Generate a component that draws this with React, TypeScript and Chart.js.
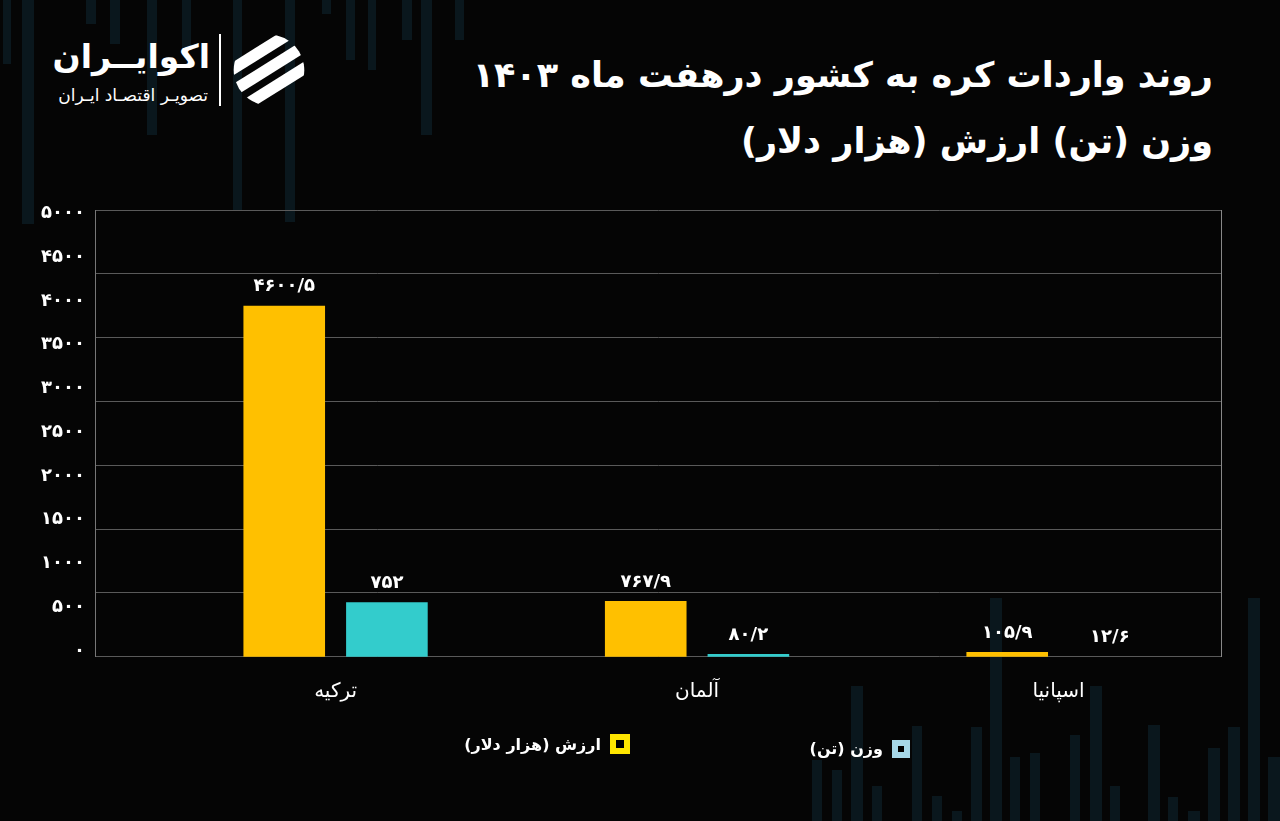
import React, { useEffect, useRef } from "react";
import { Chart, registerables } from "chart.js";

Chart.register(...registerables);

// ---------- data ----------
const categories = ["ترکیه", "آلمان", "اسپانیا"];
const valueSeries = [4600.5, 767.9, 105.9]; // ارزش (هزار دلار)
const weightSeries = [752, 80.2, 12.6]; // وزن (تن)
const seriesNames = ["ارزش (هزار دلار)", "وزن (تن)"];
const yTickValues = [0, 500, 1000, 1500, 2000, 2500, 3000, 3500, 4000, 4500, 5000];

const titleLines = ["روند واردات کره به کشور درهفت ماه ۱۴۰۳", "وزن (تن) ارزش (هزار دلار)"];

// ---------- style ----------
const YELLOW = "#FFC000";
const TEAL = "#33CCCC";
const FONT = "'DejaVu Sans', 'Noto Sans', sans-serif";

const toFa = (v: number | string) =>
  String(v)
    .replace(".", "/")
    .replace(/\d/g, (d) => "۰۱۲۳۴۵۶۷۸۹"[Number(d)]);

// decorative faint columns of the background artwork
const decorTop = [
  { x: 3, w: 8, h: 64 },
  { x: 22, w: 12, h: 224 },
  { x: 86, w: 10, h: 24 },
  { x: 110, w: 10, h: 44 },
  { x: 147, w: 10, h: 135 },
  { x: 182, w: 9, h: 50 },
  { x: 233, w: 9, h: 210 },
  { x: 285, w: 10, h: 222 },
  { x: 322, w: 9, h: 14 },
  { x: 346, w: 9, h: 60 },
  { x: 368, w: 8, h: 70 },
  { x: 402, w: 10, h: 40 },
  { x: 421, w: 11, h: 135 },
  { x: 455, w: 9, h: 40 },
];
const decorBottom = [
  { x: 812, w: 10, top: 760 },
  { x: 832, w: 10, top: 770 },
  { x: 851, w: 12, top: 686 },
  { x: 872, w: 10, top: 786 },
  { x: 912, w: 10, top: 726 },
  { x: 932, w: 10, top: 796 },
  { x: 952, w: 10, top: 811 },
  { x: 971, w: 11, top: 727 },
  { x: 990, w: 12, top: 598 },
  { x: 1010, w: 10, top: 757 },
  { x: 1030, w: 10, top: 753 },
  { x: 1070, w: 10, top: 735 },
  { x: 1090, w: 12, top: 686 },
  { x: 1110, w: 10, top: 786 },
  { x: 1148, w: 12, top: 725 },
  { x: 1168, w: 10, top: 797 },
  { x: 1188, w: 12, top: 811 },
  { x: 1208, w: 12, top: 748 },
  { x: 1228, w: 12, top: 727 },
  { x: 1248, w: 12, top: 598 },
  { x: 1268, w: 12, top: 757 },
];

const valueLabels = {
  id: "valueLabels",
  afterDatasetsDraw(chart: any) {
    const { ctx, chartArea } = chart;
    ctx.save();
    ctx.fillStyle = "#ffffff";
    ctx.font = `bold 18px ${FONT}`;
    ctx.textAlign = "center";
    ctx.textBaseline = "middle";
    chart.data.datasets.forEach((ds: any, di: number) => {
      const meta = chart.getDatasetMeta(di);
      meta.data.forEach((el: any, i: number) => {
        const y = Math.min(el.y, chartArea.bottom);
        ctx.fillText(toFa(ds.data[i].y), el.x, y - 19);
      });
    });
    ctx.restore();
  },
};

function Logo() {
  return (
    <>
      <div
        style={{
          position: "absolute",
          right: 1280 - 210,
          top: 34,
          color: "#fff",
          fontFamily: FONT,
          fontWeight: 700,
          fontSize: 33,
          lineHeight: "46px",
          direction: "rtl",
          whiteSpace: "nowrap",
        }}
      >
        اکوایــران
      </div>
      <div
        style={{
          position: "absolute",
          right: 1280 - 208,
          top: 84,
          color: "#fff",
          fontFamily: FONT,
          fontSize: 17,
          lineHeight: "22px",
          direction: "rtl",
          whiteSpace: "nowrap",
        }}
      >
        تصویـر اقتصـاد ایـران
      </div>
      <div style={{ position: "absolute", left: 219, top: 34, width: 2, height: 72, background: "#fff" }} />
      <svg style={{ position: "absolute", left: 233, top: 34 }} width={72} height={72} viewBox="0 0 100 100">
        <defs>
          <clipPath id="logoClip">
            <circle cx="50" cy="50" r="49" />
          </clipPath>
        </defs>
        <g clipPath="url(#logoClip)" transform="rotate(-32 50 50)">
          <rect x="-10" y="14" width="120" height="16" fill="#fff" />
          <rect x="-10" y="40" width="120" height="16" fill="#fff" />
          <rect x="-10" y="66" width="120" height="16" fill="#fff" />
        </g>
      </svg>
    </>
  );
}

function Legend() {
  const items = [
    { name: seriesNames[0], color: "#FFE600", right: 1280 - 630, top: 734, size: 20 },
    { name: seriesNames[1], color: "#A6D8E8", right: 1280 - 910, top: 739, size: 18 },
  ];
  return (
    <>
      {items.map((it) => (
        <div
          key={it.name}
          style={{
            position: "absolute",
            right: it.right,
            top: it.top,
            display: "flex",
            direction: "rtl",
            alignItems: "center",
            gap: 9,
            color: "#fff",
            fontFamily: FONT,
            fontSize: 16,
            fontWeight: 700,
            whiteSpace: "nowrap",
          }}
        >
          <div
            style={{
              width: it.size,
              height: it.size,
              boxSizing: "border-box",
              border: `6px solid ${it.color}`,
              background: "#000",
            }}
          />
          <span>{it.name}</span>
        </div>
      ))}
    </>
  );
}

export default function App() {
  const canvasRef = useRef<HTMLCanvasElement | null>(null);

  useEffect(() => {
    if (!canvasRef.current) return;
    Chart.defaults.font.family = FONT;
    const chart = new Chart(canvasRef.current, {
      type: "bar",
      data: {
        datasets: [
          {
            label: seriesNames[0],
            data: valueSeries.map((v, i) => ({ x: i, y: v })),
            backgroundColor: YELLOW,
            clip: 0,
            categoryPercentage: 0.568,
            barPercentage: 0.795,
          },
          {
            label: seriesNames[1],
            data: weightSeries.map((v, i) => ({ x: i, y: v })),
            backgroundColor: TEAL,
            clip: 0,
            categoryPercentage: 0.568,
            barPercentage: 0.795,
          },
        ] as any,
      },
      options: {
        responsive: false,
        animation: false,
        layout: { padding: { top: 210, right: 59, left: 0, bottom: 0 } },
        plugins: {
          legend: { display: false },
          tooltip: { enabled: false },
          title: { display: false },
        },
        scales: {
          x: {
            type: "linear",
            offset: false,
            min: -0.6655,
            max: 2.4494,
            afterBuildTicks: (s: any) => {
              s.ticks = categories.map((_, i) => ({ value: i }));
            },
            afterFit: (s: any) => {
              s.height = 164.3;
            },
            ticks: {
              color: "#ffffff",
              font: { size: 20 },
              padding: 23,
              maxRotation: 0,
              autoSkip: false,
              callback: (v: any) => categories[Number(v)] ?? "",
            },
            grid: { display: false, drawTicks: false, offset: false },
            border: { display: false },
          },
          y: {
            position: "left",
            min: 46,
            max: 5842,
            afterBuildTicks: (s: any) => {
              const n = 7;
              s.ticks = Array.from({ length: n + 1 }, (_, k) => ({
                value: s.min + (k * (s.max - s.min)) / n,
              }));
            },
            afterFit: (s: any) => {
              s.width = 0;
            },
            ticks: { display: false },
            grid: { color: "#5a5a5a", drawTicks: false, lineWidth: 1 },
            border: { display: true, color: "#777777" },
          },
          yLabels: {
            position: "left",
            min: -65,
            max: 5038,
            afterBuildTicks: (s: any) => {
              s.ticks = yTickValues.map((v) => ({ value: v }));
            },
            afterFit: (s: any) => {
              s.width = 95;
            },
            ticks: {
              color: "#ffffff",
              font: { size: 18, weight: "bold" },
              padding: 10,
              callback: (v: any) => toFa(v),
            },
            grid: { display: false, drawTicks: false },
            border: { display: false },
          },
          yRight: {
            position: "right",
            min: 0,
            max: 1,
            afterFit: (s: any) => {
              s.width = 0;
            },
            ticks: { display: false },
            grid: { display: false, drawTicks: false },
            border: { display: true, color: "#888888" },
          },
        } as any,
      },
      plugins: [valueLabels],
    });
    return () => chart.destroy();
  }, []);

  return (
    <div
      style={{
        position: "absolute",
        left: 0,
        top: 0,
        width: 1280,
        height: 821,
        overflow: "hidden",
        background: "#050505",
      }}
    >
      {decorTop.map((d, i) => (
        <div
          key={"t" + i}
          style={{ position: "absolute", left: d.x, top: 0, width: d.w, height: d.h, background: "#0a171d" }}
        />
      ))}
      {decorBottom.map((d, i) => (
        <div
          key={"b" + i}
          style={{ position: "absolute", left: d.x, top: d.top, width: d.w, height: 821 - d.top, background: "#0a171d" }}
        />
      ))}
      <Logo />
      <div
        style={{
          position: "absolute",
          right: 1280 - 1213,
          top: 42,
          color: "#fff",
          fontFamily: FONT,
          fontWeight: 700,
          fontSize: 35,
          lineHeight: "66px",
          direction: "rtl",
          textAlign: "right",
          whiteSpace: "nowrap",
        }}
      >
        {titleLines.map((t) => (
          <div key={t}>{t}</div>
        ))}
      </div>
      <canvas ref={canvasRef} width={1280} height={821} style={{ position: "absolute", left: 0, top: 0 }} />
      <Legend />
    </div>
  );
}
